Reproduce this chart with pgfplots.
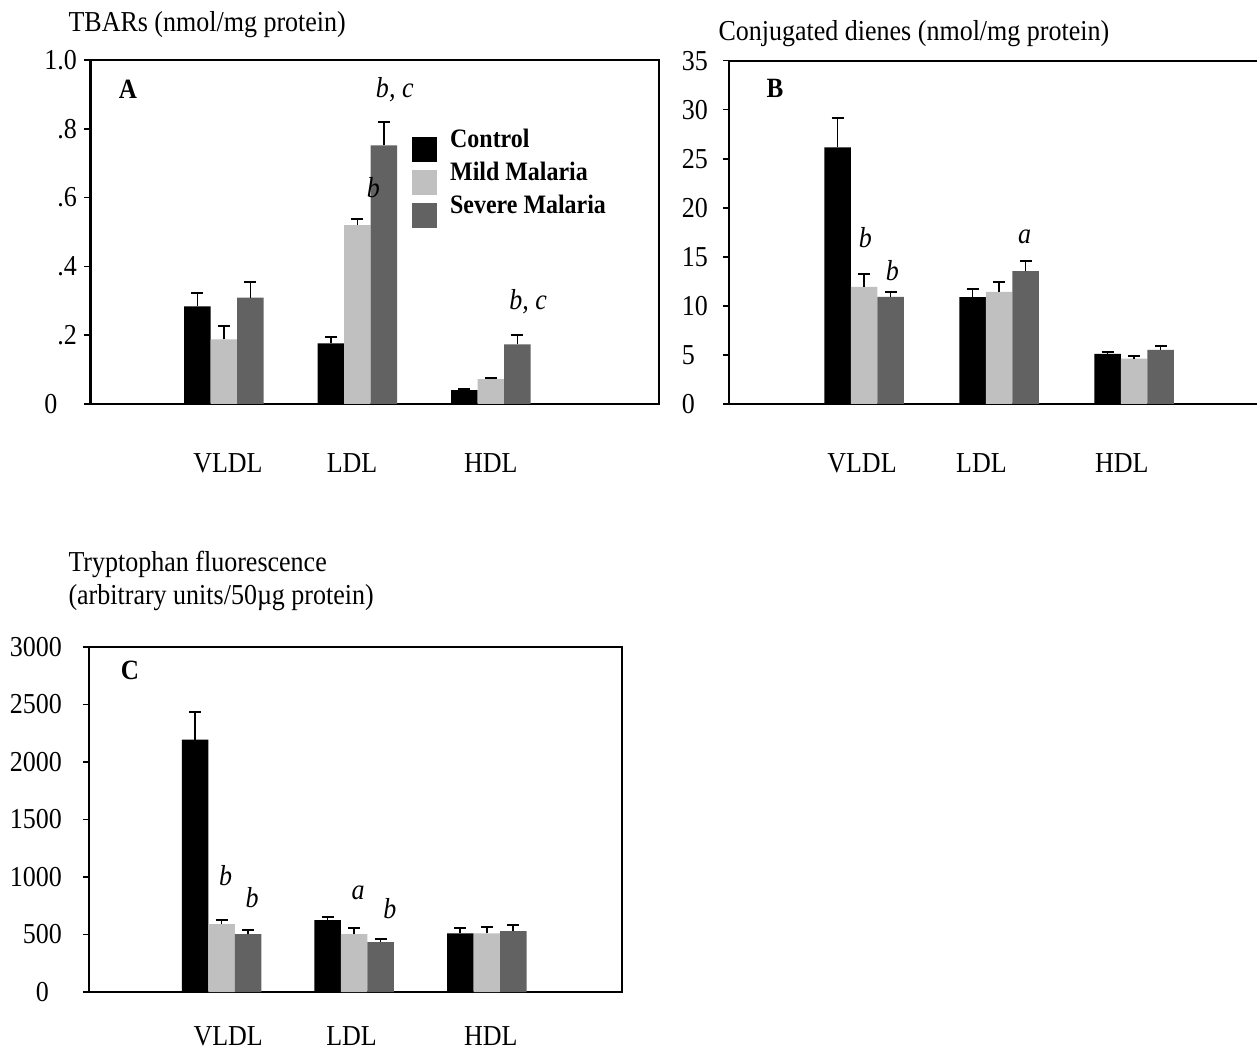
\documentclass[border=0pt]{standalone}
\usepackage{fontspec}
\setmainfont[FakeStretch=0.9]{Liberation Serif}
\usepackage{pgfplots}
\pgfplotsset{compat=1.18}
\definecolor{ctrl}{RGB}{0,0,0}
\definecolor{mild}{RGB}{192,192,192}
\definecolor{sev}{RGB}{98,98,98}
\newcommand{\bigf}{\fontsize{29}{33}\selectfont}
\pgfplotsset{
  panel/.style={
    scale only axis, anchor=south west,
    ybar, bar width=26.5bp,
    axis line style={line width=2bp},
    tick align=outside, major tick length=6bp,
    ytick pos=left, xtick pos=bottom,
    ytick style={line width=1.5bp, black},
    xtick style={draw=none},
    /pgf/number format/assume math mode=true,
    /pgf/number format/1000 sep={},
    tick label style={font=\bigf},
    yticklabel style={anchor=east, inner sep=0pt},
    xticklabel style={anchor=center},
    xticklabels={VLDL,LDL,HDL},
    error bars/y dir=plus, error bars/y explicit,
    error bars/error bar style={line width=1.6bp, black},
    error bars/error mark options={rotate=90, line width=2bp, black, mark size=6bp},
    clip=false,
  },
  cbar/.style={fill=ctrl, draw=none, bar shift=-26.5bp},
  mbar/.style={fill=mild, draw=none, bar shift=0bp},
  sbar/.style={fill=sev, draw=none, bar shift=26.5bp},
}
\begin{document}
\begin{tikzpicture}
\path[use as bounding box] (0,0) rectangle (1257bp,1051bp);
% ---------- Panel A ----------
\begin{axis}[panel, at={(90.5bp,647bp)}, width=568.5bp, height=344bp,
  xmin=0, xmax=4.26, ymin=0, ymax=1.0,
  ytick={0,0.2,0.4,0.6,0.8,1.0}, yticklabels={0\phantom{.0},.2,.4,.6,.8,1.0},
  yticklabel style={xshift=-7.5bp},
  xtick={1.03,1.96,3.0}, xticklabel style={yshift=-53bp},
  legend style={at={(rel axis cs:0.5655,0.805)}, anchor=north west, draw=none, fill=none,
    inner sep=0pt, font=\bfseries\fontsize{26.7}{30}\selectfont, row sep=-1.5bp,
    /tikz/every odd column/.append style={column sep=11bp}},
  legend cell align=left,
  legend image code/.code={\fill[#1,draw=none] (0bp,-22.5bp) rectangle (25bp,2.5bp);},
]
\addplot[cbar] coordinates {(1,0.284) +- (0,0.040) (2,0.176) +- (0,0.019) (3,0.040) +- (0,0.005)};
\addplot[mbar] coordinates {(1,0.188) +- (0,0.039) (2,0.520) +- (0,0.017) (3,0.072) +- (0,0.005)};
\addplot[sbar] coordinates {(1,0.309) +- (0,0.045) (2,0.752) +- (0,0.068) (3,0.173) +- (0,0.027)};
\legend{Control,Mild Malaria,Severe Malaria}
\node[font=\bfseries\fontsize{28}{32}\selectfont] at (rel axis cs:0.066,0.916) {A};
\node[font=\itshape\bigf] at (axis cs:2.28,0.913) {b, c};
\node[font=\itshape\bigf] at (axis cs:2.12,0.63) {b};
\node[font=\itshape\bigf] at (axis cs:3.28,0.297) {b, c};
\end{axis}
\node[anchor=base west, font=\bigf] at (65bp,1019bp) {TBARs (nmol/mg protein)};
% ---------- Panel B ----------
\begin{axis}[panel, at={(729bp,647bp)}, width=580bp, height=343.3bp,
  xmin=0, xmax=4.296, ymin=0, ymax=35,
  ytick={0,5,10,15,20,25,30,35},
  yticklabels={0\phantom{0},5\phantom{0},10,15,20,25,30,35},
  yticklabel style={xshift=-15bp},
  xtick={0.985,1.87,2.91}, xticklabel style={yshift=-53bp},
]
\addplot[cbar] coordinates {(1,26.15) +- (0,3.05) (2,10.90) +- (0,0.85) (3,5.10) +- (0,0.25)};
\addplot[mbar] coordinates {(1,11.93) +- (0,1.35) (2,11.42) +- (0,1.05) (3,4.62) +- (0,0.23)};
\addplot[sbar] coordinates {(1,10.91) +- (0,0.50) (2,13.55) +- (0,1.02) (3,5.52) +- (0,0.41)};
\node[font=\bfseries\fontsize{28}{32}\selectfont] at (axis cs:0.34,32.2) {B};
\node[font=\itshape\bigf] at (axis cs:1.01,17.0) {b};
\node[font=\itshape\bigf] at (axis cs:1.21,13.6) {b};
\node[font=\itshape\bigf] at (axis cs:2.19,17.0) {a};
\end{axis}
\node[anchor=base west, font=\bigf] at (715bp,1010bp) {Conjugated dienes (nmol/mg protein)};
% ---------- Panel C ----------
\begin{axis}[panel, at={(89bp,59bp)}, width=533bp, height=345bp,
  xmin=0, xmax=4.02, ymin=0, ymax=3000,
  ytick={0,500,1000,1500,2000,2500,3000},
  yticklabels={0\phantom{0},500,1000,1500,2000,2500,3000},
  yticklabel style={xshift=-21bp},
  xtick={1.05,1.98,3.03}, xticklabel style={yshift=-38bp},
]
\addplot[cbar] coordinates {(1,2195) +- (0,238) (2,625) +- (0,25) (3,509) +- (0,46)};
\addplot[mbar] coordinates {(1,590) +- (0,35) (2,503) +- (0,52) (3,509) +- (0,55)};
\addplot[sbar] coordinates {(1,503) +- (0,35) (2,433) +- (0,29) (3,529) +- (0,52)};
\node[font=\bfseries\fontsize{28}{32}\selectfont] at (rel axis cs:0.077,0.933) {C};
\node[font=\itshape\bigf] at (axis cs:1.03,1009) {b};
\node[font=\itshape\bigf] at (axis cs:1.23,817) {b};
\node[font=\itshape\bigf] at (axis cs:2.03,861) {a};
\node[font=\itshape\bigf] at (axis cs:2.27,722) {b};
\end{axis}
\node[anchor=base west, font=\bigf] at (65bp,479bp) {Tryptophan fluorescence};
\node[anchor=base west, font=\bigf] at (65bp,446bp) {(arbitrary units/50µg protein)};
\end{tikzpicture}
\end{document}
